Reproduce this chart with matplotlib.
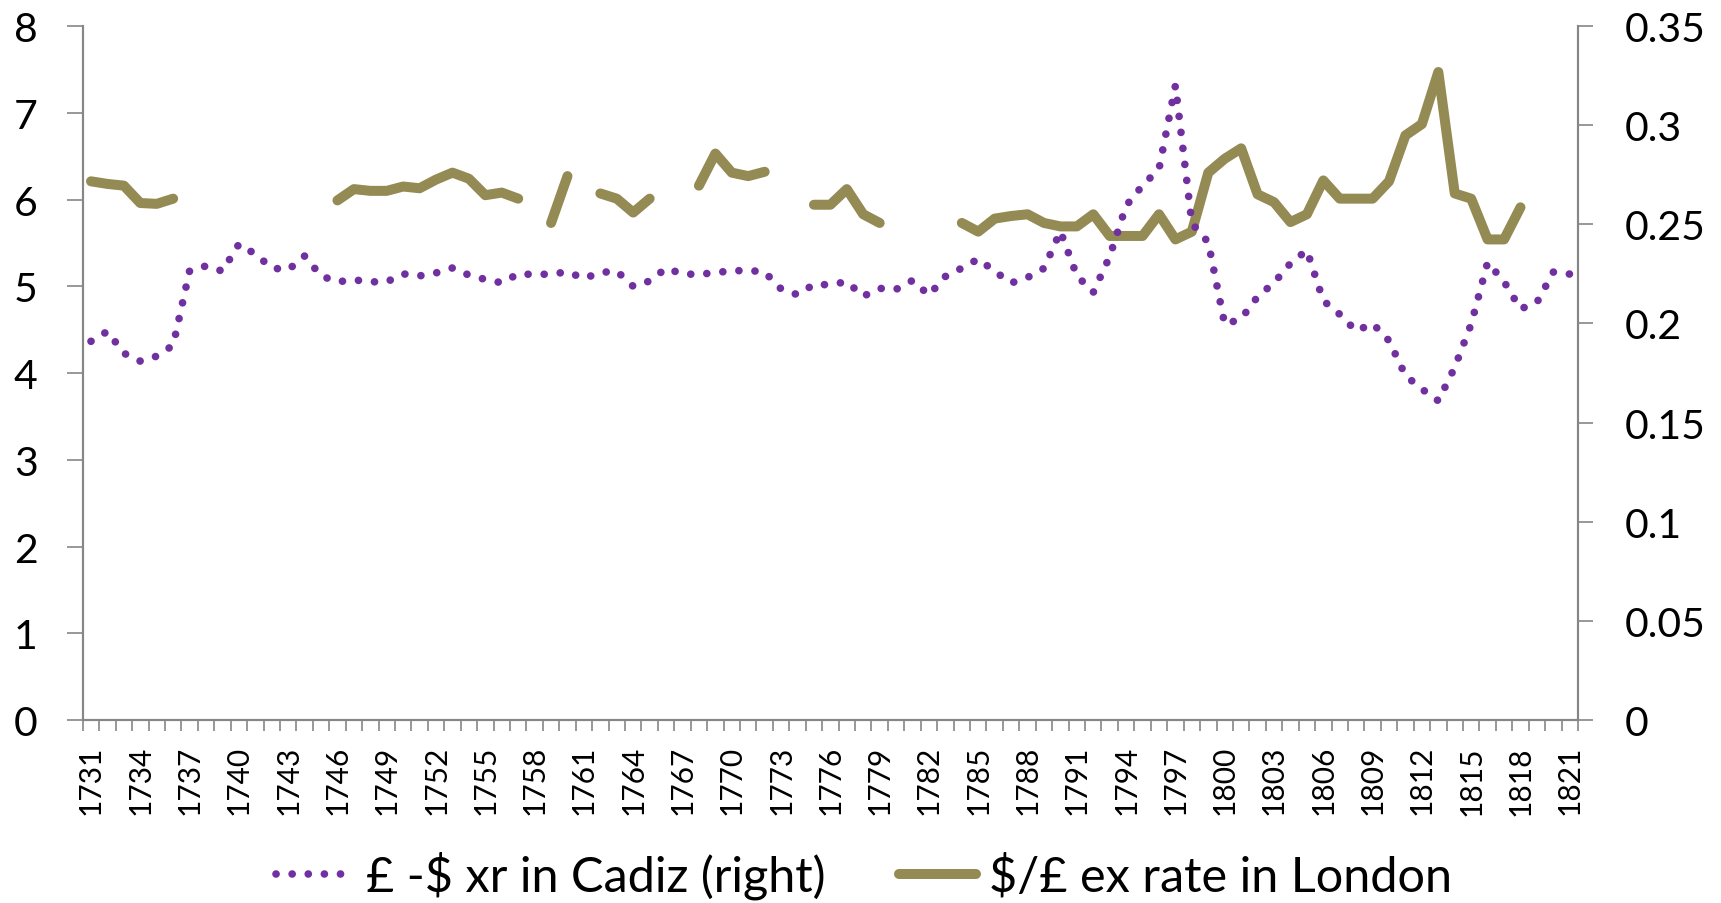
import numpy as np
import matplotlib.pyplot as plt
from matplotlib.ticker import FixedLocator, FormatStrFormatter

plt.rcParams['font.family'] = ['Lato', 'DejaVu Sans']

years = np.arange(1731, 1822)

# pound-dollar exchange rate in Cadiz (right axis)
cadiz = [
    0.191, 0.196, 0.185, 0.181, 0.1835, 0.189, 0.2265, 0.229, 0.2264, 0.240,  # 1731-1740
    0.235, 0.228, 0.227, 0.234, 0.224, 0.221, 0.222, 0.221, 0.221, 0.225,     # 1741-1750
    0.224, 0.2255, 0.228, 0.2244, 0.2222, 0.2205, 0.225, 0.2247, 0.2249, 0.226,  # 1751-1760
    0.2227, 0.2257, 0.2264, 0.2187, 0.2214, 0.2278, 0.225, 0.2247, 0.2257, 0.2265,  # 1761-1770
    0.2268, 0.2259, 0.2174, 0.2145, 0.2197, 0.2195, 0.2211, 0.2137, 0.2177, 0.2172,  # 1771-1780
    0.2217, 0.2143, 0.2237, 0.2279, 0.2325, 0.2263, 0.2204, 0.2232, 0.2278, 0.2465,  # 1781-1790
    0.2241, 0.2157, 0.2338, 0.2594, 0.2696, 0.2779, 0.320, 0.2505, 0.2409, 0.1995,   # 1791-1800
    0.2024, 0.2135, 0.2205, 0.2303, 0.2369, 0.2115, 0.2046, 0.1962, 0.2000, 0.1913,  # 1801-1810
    0.1737, 0.1669, 0.1610, 0.1779, 0.1997, 0.2308, 0.2211, 0.2073, 0.2106, 0.2259,  # 1811-1820
    0.2249,                                                                          # 1821
]

nan = np.nan
# dollar/pound exchange rate in London (left axis), gaps = missing years
london = [
    6.21, 6.18, 6.16, 5.96, 5.95, 6.01, nan, nan, nan, nan,      # 1731-1740
    nan, nan, nan, nan, nan, 5.99, 6.12, 6.10, 6.10, 6.15,       # 1741-1750
    6.13, 6.23, 6.31, 6.24, 6.05, 6.08, 6.01, nan, 5.73, 6.27,   # 1751-1760
    nan, 6.07, 6.01, 5.85, 6.01, nan, nan, 6.16, 6.53, 6.31,     # 1761-1770
    6.27, 6.32, nan, nan, 5.94, 5.94, 6.12, 5.83, 5.73, nan,     # 1771-1780
    nan, nan, nan, 5.73, 5.63, 5.78, 5.81, 5.83, 5.73, 5.69,     # 1781-1790
    5.69, 5.83, 5.58, 5.58, 5.58, 5.83, 5.54, 5.63, 6.31, 6.47,  # 1791-1800
    6.59, 6.06, 5.97, 5.74, 5.83, 6.22, 6.01, 6.01, 6.01, 6.21,  # 1801-1810
    6.74, 6.87, 7.47, 6.07, 6.01, 5.54, 5.54, 5.91, nan, nan,    # 1811-1820
    nan,                                                         # 1821
]

label_years = years[::3]
left_ticks = np.arange(0, 9, 1)
right_ticks = np.arange(0, 0.351, 0.05)

purple = '#7030A0'
olive = '#948A54'
grey = '#868686'

fig = plt.figure(figsize=(17.21, 9.04), dpi=100)
ax = fig.add_axes([0.0481, 0.2024, 0.8688, 0.7677])
ax2 = ax.twinx()

l_london, = ax.plot(years, london, color=olive, lw=7.2, solid_capstyle='round',
                    solid_joinstyle='round', label='$/£ ex rate in London')
l_cadiz, = ax2.plot(years, cadiz, color=purple, lw=5.5, linestyle=(0, (0.01, 2.1)),
                    dash_capstyle='round', label='£ -$ xr in Cadiz (right)')

ax.set_xlim(1730.5, 1821.5)
ax.set_ylim(0, 8)
ax2.set_ylim(0, 0.35)

ax.set_xticks(label_years)
ax.set_xticklabels([str(y) for y in label_years], rotation=90, fontsize=21.5)
ax.xaxis.set_minor_locator(FixedLocator(np.arange(1730.5, 1822, 1)))
ax.tick_params(axis='x', which='major', length=0, pad=18)
ax.tick_params(axis='x', which='minor', length=8, width=1.2, color=grey)

ax.set_yticks(left_ticks)
ax.tick_params(axis='y', length=11.5, width=1.2, color=grey, pad=21, labelsize=29.5)
ax2.set_yticks(right_ticks)
ax2.yaxis.set_major_formatter(FormatStrFormatter('%g'))
ax2.tick_params(axis='y', length=11, width=1.2, color=grey, pad=23, labelsize=29.5)

for a in (ax, ax2):
    a.spines['top'].set_visible(False)
    for s in ('left', 'right', 'bottom'):
        a.spines[s].set_color(grey)
        a.spines[s].set_linewidth(1.5)

fig.legend([l_cadiz, l_london], [l_cadiz.get_label(), l_london.get_label()],
           loc='center', bbox_to_anchor=(0.502, 0.031), ncol=2, frameon=False,
           fontsize=35, handlelength=1.6, handletextpad=0.25, columnspacing=1.5)

fig.savefig('out.png', dpi=100)
